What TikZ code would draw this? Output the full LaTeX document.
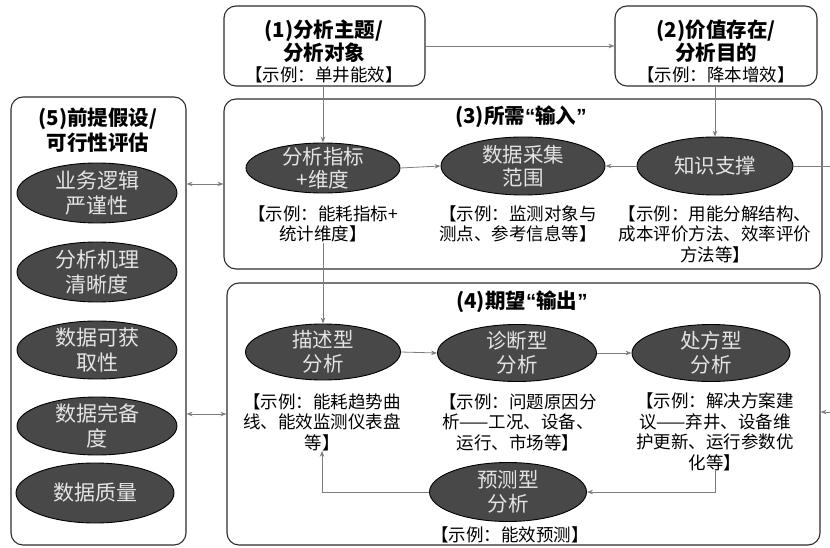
\documentclass[tikz,border=0pt]{standalone}
\usepackage{fontspec}
\setmainfont{Noto Sans CJK SC}
\newfontfamily\latq{Liberation Sans}
\usetikzlibrary{shapes.geometric,arrows.meta}
\definecolor{ellfill}{RGB}{72,72,72}
\definecolor{elltext}{RGB}{228,228,228}
\definecolor{linegray}{RGB}{125,125,125}
\definecolor{boxline}{RGB}{45,45,45}
\begin{document}
\begin{tikzpicture}[x=1pt,y=-1pt,
  box/.style={rectangle, draw=boxline, line width=1.1pt, rounded corners=12pt, inner sep=0},
  ell/.style={ellipse, draw=black, line width=0.9pt, fill=ellfill, inner sep=0},
  etx/.style={text=elltext, align=center, font=\fontsize{20.5}{22.5}\selectfont, inner sep=0},
  etx5/.style={etx, font=\fontsize{21}{25}\selectfont},
  ex/.style={align=center, font=\fontsize{17.5}{20.5}\selectfont, inner sep=0},
  ttl/.style={align=center, font=\bfseries\fontsize{20.5}{22.5}\selectfont, inner sep=0},
  plain/.style={draw=linegray, line width=0.8pt},
  arr/.style={plain, -{Stealth[length=6pt,width=4.5pt]}},
  darr/.style={plain, {Stealth[length=6pt,width=4.5pt]}-{Stealth[length=6pt,width=4.5pt]}},
]
\useasboundingbox (0,0) rectangle (830,548);

% boxes
\node[box, minimum width=201, minimum height=80] (b1) at (324.5,46) {};
\node[box, minimum width=202, minimum height=80] (b2) at (716,46) {};
\node[box, minimum width=175, minimum height=448] (b5) at (98.5,321) {};
\node[box, minimum width=598, minimum height=170] (b3) at (523,184) {};
\node[box, minimum width=593, minimum height=262] (b4) at (523.5,414) {};

% titles
\node[ttl] (t1) at (324,41) {(1)分析主题/\\分析对象};
\node[ex] (x1) at (324,75) {【示例：单井能效】};
\node[ttl] (t2) at (716,41) {(2)价值存在/\\分析目的};
\node[ex] (x2) at (716,75) {【示例：降本增效】};
\node[ttl, font=\bfseries\fontsize{20.5}{25}\selectfont] (t5) at (98,130) {(5)前提假设/\\可行性评估};
\node[ttl] (t3) at (521,117) {(3)所需{\latq “}输入{\latq ”}};
\node[ttl] (t4) at (522,302) {(4)期望{\latq “}输出{\latq ”}};

% box 5 ellipses
\node[ell, minimum width=160, minimum height=60] (p1) at (97,193) {};
\node[etx5] (p1t) at (p1) {业务逻辑\\严谨性};
\node[ell, minimum width=160, minimum height=60] (p2) at (97,272) {};
\node[etx5] (p2t) at (p2) {分析机理\\清晰度};
\node[ell, minimum width=160, minimum height=58] (p3) at (97,350) {};
\node[etx5] (p3t) at (p3) {数据可获\\取性};
\node[ell, minimum width=160, minimum height=58] (p4) at (97,426) {};
\node[etx5] (p4t) at (p4) {数据完备\\度};
\node[ell, minimum width=158, minimum height=60] (p5) at (95,493) {};
\node[etx5] (p5t) at (p5) {数据质量};

% box 3
\node[ell, minimum width=154, minimum height=50] (eidx) at (323,168) {};
\node[etx] (eidxt) at (eidx) {分析指标\\+维度};
\node[ell, minimum width=164, minimum height=58] (ecol) at (523,166) {};
\node[etx] (ecolt) at (ecol) {数据采集\\范围};
\node[ell, minimum width=156, minimum height=58] (ekn) at (715,166) {};
\node[etx] (eknt) at (ekn) {知识支撑};
\node[ex] (xidx) at (323,224) {【示例：能耗指标+\\统计维度】};
\node[ex] (xcol) at (518,224) {【示例：监测对象与\\测点、参考信息等】};
\node[ex] (xkn) at (715,234) {【示例：用能分解结构、\\成本评价方法、效率评价\\方法等】};

% box 4
\node[ell, minimum width=155, minimum height=56] (edesc) at (323,352) {};
\node[etx, font=\fontsize{20.5}{24}\selectfont] (edesct) at (edesc) {描述型\\分析};
\node[ell, minimum width=159, minimum height=57] (ediag) at (517,353) {};
\node[etx, font=\fontsize{20.5}{24}\selectfont] (ediagt) at (ediag) {诊断型\\分析};
\node[ell, minimum width=158, minimum height=57] (epres) at (711,353) {};
\node[etx, font=\fontsize{20.5}{24}\selectfont] (eprest) at (epres) {处方型\\分析};
\node[ell, minimum width=157, minimum height=59] (epred) at (508,492) {};
\node[etx, font=\fontsize{20.5}{24}\selectfont] (epredt) at (epred) {预测型\\分析};
\node[ex] (xdesc) at (322,422) {【示例：能耗趋势曲\\线、能效监测仪表盘\\等】};
\node[ex] (xdiag) at (518,422) {【示例：问题原因分\\析——工况、设备、\\运行、市场等】};
\node[ex] (xpres) at (715,432) {【示例：解决方案建\\议——弃井、设备维\\护更新、运行参数优\\化等】};
\node[ex] (xpred) at (510,535) {【示例：能效预测】};

% connectors
\draw[arr] (b1.east) -- (b2.west);
\draw[arr] (b1.south -| eidx) -- (eidx.north);
\draw[arr] (b2.south -| ekn) -- (ekn.north);
\draw[arr] (eidx.east) -- (ecol.west);
\draw[arr] (ekn.west) -- (ecol.east);
\draw[darr] (b5.east |- b3.west) -- (b3.west);
\draw[darr] (b5.east |- b4.west) -- (b4.west);
\draw[arr] (xidx.south) -- (edesc.north);
\draw[arr] (edesc.east) -- (ediag.west);
\draw[arr] (ediag.east) -- (epres.west);
\draw[arr] (xpres.south) -- (xpres.south |- epred) -- (epred.east);
\draw[arr] (epred.west) -- (xdesc.south |- epred) -- (xdesc.south);
\coordinate (rout) at (830,166);
\draw[plain] (ekn.east) -- (rout);
\coordinate (rin) at (830,412);
\draw[arr] (rin) -- (rin -| b4.east);
\end{tikzpicture}
\end{document}
